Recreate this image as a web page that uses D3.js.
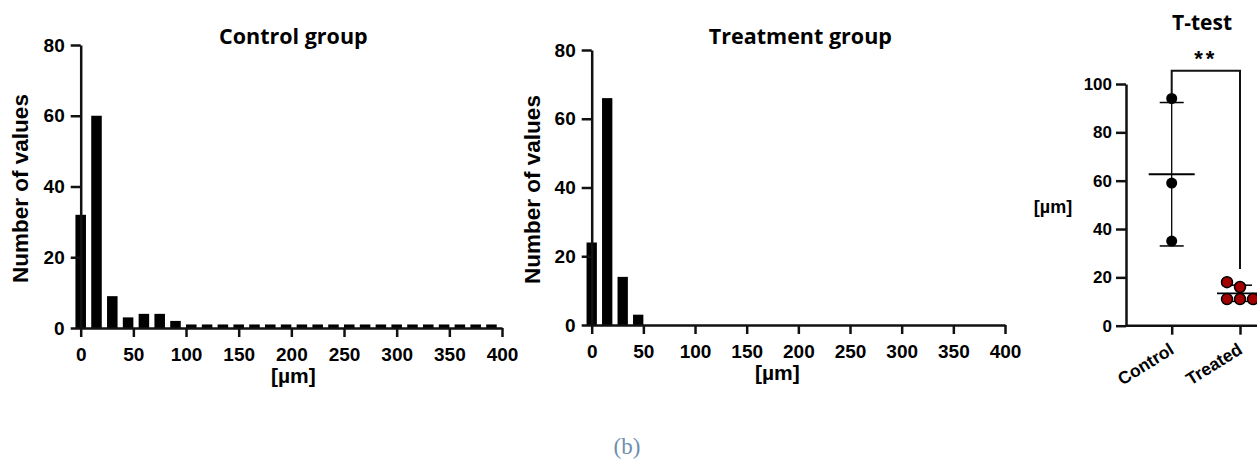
<!DOCTYPE html>
<html>
<head>
<meta charset="utf-8">
<script src="https://cdn.jsdelivr.net/npm/d3@7"></script>
<style>
  body { margin: 0; background: #fff; }
  svg { display: block; }
  .tick text { font-family: "Liberation Sans", Arial, sans-serif; font-weight: bold; fill: #000; }
</style>
</head>
<body>
<svg></svg>
<script>
// histogram bins (bin centers, µm)
const binCenters = [0, 15, 30, 45, 60, 75, 90, 105, 120, 135, 150, 165, 180, 195, 210,
  225, 240, 255, 270, 285, 300, 315, 330, 345, 360, 375, 390];
const controlCounts = [32, 60, 9, 3, 4, 4, 2, 1, 1, 1, 1, 1, 1, 1, 1,
  1, 1, 1, 1, 1, 1, 1, 1, 1, 1, 1, 1];
const treatedCounts = [24, 66, 14, 3, 0, 0, 0, 0, 0, 0, 0, 0, 0, 0, 0,
  0, 0, 0, 0, 0, 0, 0, 0, 0, 0, 0, 0];
const histXTicks = [0, 50, 100, 150, 200, 250, 300, 350, 400];
const histYTicks = [0, 20, 40, 60, 80];

// t-test panel
const groups = ['Control', 'Treated'];
const controlValues = [94, 59, 35];
const treatedValues = [18, 16, 11, 11, 11];
const tYTicks = [0, 20, 40, 60, 80, 100];

const width = 1257;
const height = 461;
const binWidth = 10;

const svg = d3.select('svg')
    .attr('width', width)
    .attr('height', height);

const styleAxis = (g, size) => {
    g.selectAll('.domain').attr('stroke-width', 2.5).attr('stroke', '#111');
    g.selectAll('.tick line').attr('stroke-width', 2.5).attr('stroke', '#111');
    g.selectAll('.tick text').style('font-size', size + 'px');
}

const drawHistogram = (counts, box, title) => {
    const x = d3.scaleLinear().domain([0, 400]).range([box.x0, box.x1]);
    const y = d3.scaleLinear().domain([0, 80]).range([box.y0, box.y1]);
    const g = svg.append('g');

    const data = binCenters.map((c, i) => ({ c: c, n: counts[i] })).filter(d => d.n > 0);
    g.selectAll('rect')
        .data(data)
        .enter()
        .append('rect')
        .attr('x', d => x(d.c - binWidth / 2))
        .attr('width', d => x(d.c + binWidth / 2) - x(d.c - binWidth / 2))
        .attr('y', d => y(d.n))
        .attr('height', d => y(0) - y(d.n))
        .attr('fill', '#000');

    const xAxis = d3.axisBottom(x).tickValues(histXTicks).tickSize(9).tickPadding(11).tickSizeOuter(0);
    const yAxis = d3.axisLeft(y).tickValues(histYTicks).tickSize(10).tickPadding(6).tickSizeOuter(0);

    g.append('g')
        .attr('transform', 'translate(0,' + box.y0 + ')')
        .call(xAxis)
        .call(a => styleAxis(a, 19));
    g.append('g')
        .attr('transform', 'translate(' + box.x0 + ',0)')
        .call(yAxis)
        .call(a => styleAxis(a, 19));

    g.append('text')
        .attr('x', (box.x0 + box.x1) / 2 + box.titleDx)
        .attr('y', 44)
        .attr('text-anchor', 'middle')
        .style('font-family', '"Open Sans", sans-serif')
        .style('font-weight', 'bold')
        .style('font-size', '21.5px')
        .text(title);

    g.append('text')
        .attr('transform', 'translate(' + box.labelX + ',' + ((box.y0 + box.y1) / 2 + 2) + ') rotate(-90)')
        .attr('text-anchor', 'middle')
        .style('font-family', '"Liberation Sans", Arial, sans-serif')
        .style('font-weight', 'bold')
        .style('font-size', '22.5px')
        .text('Number of values');

    g.append('text')
        .attr('x', (box.x0 + box.x1) / 2 + box.xLabelDx)
        .attr('y', box.y0 + 55)
        .attr('text-anchor', 'middle')
        .style('font-family', '"Liberation Sans", Arial, sans-serif')
        .style('font-weight', 'bold')
        .style('font-size', '21px')
        .text('[µm]');
}

drawHistogram(controlCounts, { x0: 80.7, x1: 502, y0: 328, y1: 45, labelX: 28, titleDx: 2, xLabelDx: 2 }, 'Control group');
drawHistogram(treatedCounts, { x0: 591.7, x1: 1005, y0: 325, y1: 50, labelX: 540, titleDx: 2, xLabelDx: -21 }, 'Treatment group');

// ---- T-test scatter ----
const tx = d3.scalePoint().domain(groups).range([1171.7, 1240]);
const ty = d3.scaleLinear().domain([0, 100]).range([325.7, 84]);
const tg = svg.append('g');

const yAx = d3.axisLeft(ty).tickValues(tYTicks).tickSize(10).tickPadding(4).tickSizeOuter(0);
tg.append('g')
    .attr('transform', 'translate(1126,0)')
    .call(yAx)
    .call(a => styleAxis(a, 17));

const xAx = d3.axisBottom(tx).tickSize(9).tickSizeOuter(0);
const xg = tg.append('g')
    .attr('transform', 'translate(0,' + ty(0) + ')')
    .call(xAx)
    .call(a => styleAxis(a, 17.5));
xg.select('.domain').remove();
xg.append('line')
    .attr('x1', 1126).attr('x2', width + 20)
    .attr('stroke', '#111').attr('stroke-width', 2.5);
xg.selectAll('.tick text')
    .attr('text-anchor', 'end')
    .attr('dy', 0)
    .attr('y', 0)
    .attr('transform', 'translate(3,27) rotate(-32)');

// mean and SD bars
const stats = [
    { g: 'Control', v: controlValues },
    { g: 'Treated', v: treatedValues }
].map(d => ({ g: d.g, mean: d3.mean(d.v), sd: d3.deviation(d.v) }));

stats.forEach(s => {
    const cx = tx(s.g);
    tg.append('line')
        .attr('x1', cx).attr('x2', cx)
        .attr('y1', ty(s.mean + s.sd)).attr('y2', ty(s.mean - s.sd))
        .attr('stroke', '#000').attr('stroke-width', 1.3);
    [s.mean + s.sd, s.mean - s.sd].forEach(v => {
        tg.append('line')
            .attr('x1', cx - 12).attr('x2', cx + 12)
            .attr('y1', ty(v)).attr('y2', ty(v))
            .attr('stroke', '#000').attr('stroke-width', 1.5);
    });
    tg.append('line')
        .attr('x1', cx - 23).attr('x2', cx + 23)
        .attr('y1', ty(s.mean)).attr('y2', ty(s.mean))
        .attr('stroke', '#000').attr('stroke-width', 1.8);
});

// simple dodge so dots don't overlap
const dodge = (values, cx, r) => {
    const placed = [];
    const order = [0, -1, 1, -2, 2, -3, 3];
    values.slice().sort((a, b) => a - b).forEach(v => {
        const cy = ty(v);
        for (const k of order) {
            const px = cx + k * (r * 2 + 2);
            if (placed.every(p => Math.hypot(p.x - px, p.y - cy) >= r * 2)) {
                placed.push({ x: px, y: cy });
                break;
            }
        }
    });
    return placed;
}

tg.selectAll('.ctrl')
    .data(dodge(controlValues, tx('Control'), 5.5))
    .enter()
    .append('circle')
    .attr('class', 'ctrl')
    .attr('cx', d => d.x).attr('cy', d => d.y)
    .attr('r', 5.5)
    .attr('fill', '#000');

tg.selectAll('.trt')
    .data(dodge(treatedValues, tx('Treated'), 5.5))
    .enter()
    .append('circle')
    .attr('class', 'trt')
    .attr('cx', d => d.x).attr('cy', d => d.y)
    .attr('r', 5.5)
    .attr('fill', '#a30000')
    .attr('stroke', '#000')
    .attr('stroke-width', 1.5);

// significance bracket
tg.append('path')
    .attr('d', 'M' + tx('Control') + ',' + ty(95.5) + 'V70.7H' + tx('Treated') + 'V' + ty(23.5))
    .attr('fill', 'none')
    .attr('stroke', '#111')
    .attr('stroke-width', 2);
tg.append('text')
    .attr('x', (tx('Control') + tx('Treated')) / 2)
    .attr('y', 66)
    .attr('text-anchor', 'middle')
    .style('font-family', '"Liberation Sans", Arial, sans-serif')
    .style('font-weight', 'bold')
    .style('font-size', '22px')
    .style('letter-spacing', '3px')
    .text('**');

tg.append('text')
    .attr('x', 1202)
    .attr('y', 30)
    .attr('text-anchor', 'middle')
    .style('font-family', '"Open Sans", sans-serif')
    .style('font-weight', 'bold')
    .style('font-size', '21px')
    .text('T-test');

tg.append('text')
    .attr('x', 1053)
    .attr('y', 213)
    .attr('text-anchor', 'middle')
    .style('font-family', '"Liberation Sans", Arial, sans-serif')
    .style('font-weight', 'bold')
    .style('font-size', '18px')
    .text('[µm]');

// caption
svg.append('text')
    .attr('x', 627)
    .attr('y', 454)
    .attr('text-anchor', 'middle')
    .style('font-family', '"Liberation Serif", serif')
    .style('font-size', '23px')
    .style('fill', '#6f8fae')
    .text('(b)');
</script>
</body>
</html>
